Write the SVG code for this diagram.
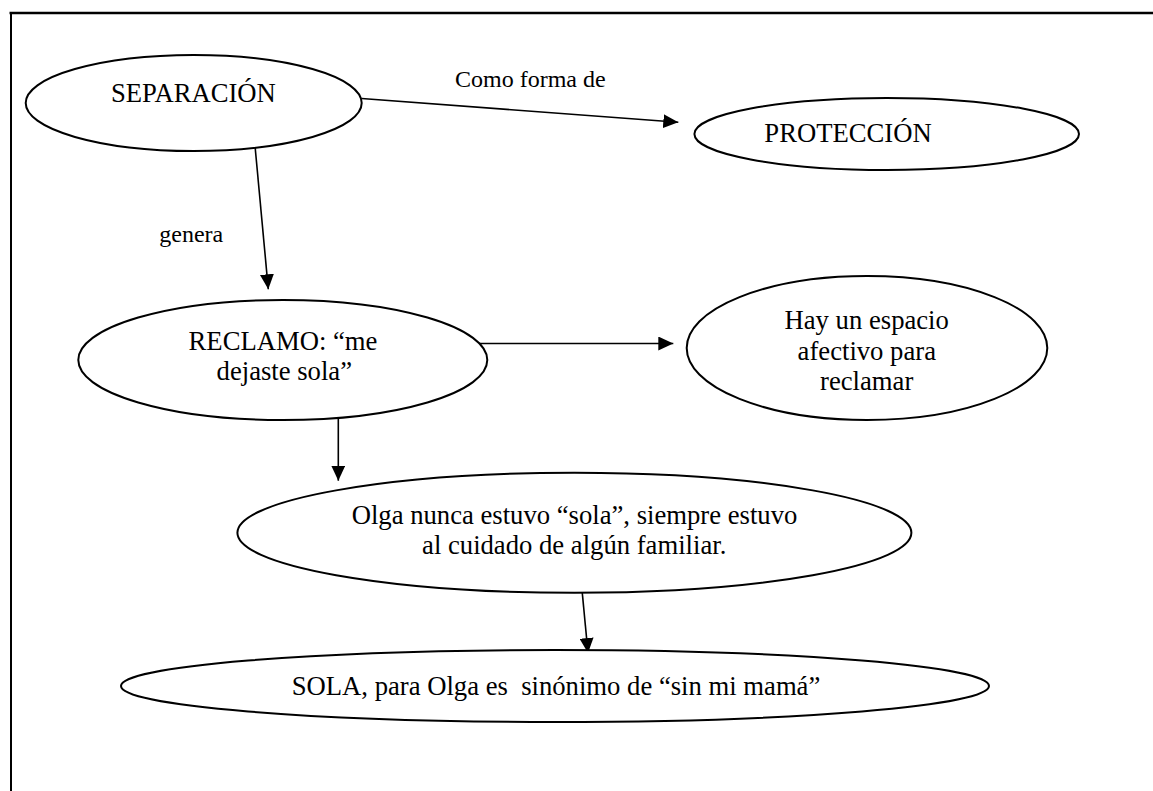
<svg xmlns="http://www.w3.org/2000/svg" width="1153" height="791" viewBox="0 0 1153 791">
  <style>
    .node ellipse { fill: #ffffff; stroke: #000000; stroke-width: 2; }
    .node text { font-family: "Liberation Serif", "Times New Roman", serif; font-size: 26.67px; fill: #000000; text-anchor: middle; }
    .lbl { font-family: "Liberation Serif", "Times New Roman", serif; font-size: 24px; fill: #000000; }
    .conn line { stroke: #000000; stroke-width: 1.6; marker-end: url(#arrow); }
    .frame { stroke: #000000; fill: none; }
  </style>
  <defs>
    <marker id="arrow" markerUnits="userSpaceOnUse" markerWidth="16" markerHeight="14" refX="15" refY="7" orient="auto">
      <path d="M0,0 L15,7 L0,14 z" fill="#000000"/>
    </marker>
  </defs>
  <rect x="0" y="0" width="1153" height="791" fill="#ffffff"/>
  <g id="frame">
    <line class="frame" x1="9.5" y1="13" x2="1153" y2="13" stroke-width="2.6"/>
    <line class="frame" x1="11" y1="12" x2="11" y2="791" stroke-width="2"/>
  </g>
  <g id="connectors" class="conn">
    <line x1="361.7" y1="98.5" x2="678.3" y2="122.3"/>
    <line x1="255" y1="145.7" x2="268.3" y2="289.3"/>
    <line x1="479" y1="343.5" x2="673.3" y2="343.5"/>
    <line x1="338.3" y1="419" x2="338.3" y2="480.7"/>
    <line x1="581.3" y1="582.7" x2="588" y2="653"/>
  </g>
  <g id="labels">
    <text class="lbl" x="455" y="86.5">Como forma de</text>
    <text class="lbl" x="159.3" y="241.7">genera</text>
  </g>
  <g id="node-separacion" class="node">
    <ellipse cx="193.7" cy="103" rx="168" ry="48"/>
    <text x="193.4" y="101.7">SEPARACIÓN</text>
  </g>
  <g id="node-proteccion" class="node">
    <ellipse cx="886.7" cy="134" rx="192.3" ry="36"/>
    <text x="848" y="141.7">PROTECCIÓN</text>
  </g>
  <g id="node-reclamo" class="node">
    <ellipse cx="282.8" cy="360" rx="204.5" ry="60"/>
    <text x="283" y="350">RECLAMO: “me</text>
    <text x="284.3" y="380">dejaste sola”</text>
  </g>
  <g id="node-espacio" class="node">
    <ellipse cx="867" cy="348" rx="180.3" ry="72"/>
    <text x="866.7" y="329">Hay un espacio</text>
    <text x="866.8" y="359.5">afectivo para</text>
    <text x="866.7" y="390">reclamar</text>
  </g>
  <g id="node-olga" class="node">
    <ellipse cx="574.4" cy="532.8" rx="337" ry="60"/>
    <text x="574.5" y="523.6">Olga nunca estuvo “sola”, siempre estuvo</text>
    <text x="574.2" y="554.3">al cuidado de algún familiar.</text>
  </g>
  <g id="node-sola" class="node">
    <ellipse cx="555" cy="686" rx="434" ry="36"/>
    <text x="556" y="695" xml:space="preserve">SOLA, para Olga es  sinónimo de “sin mi mamá”</text>
  </g>
</svg>
